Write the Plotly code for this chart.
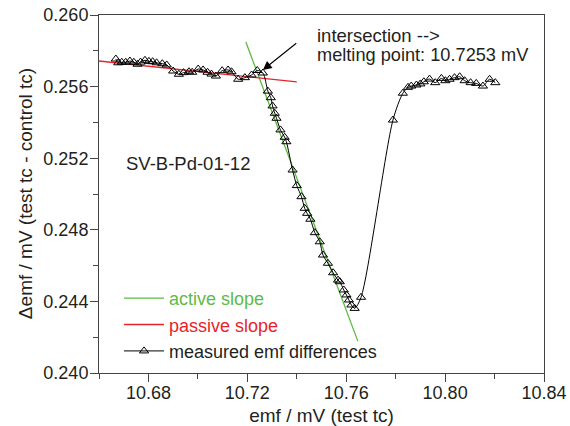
import plotly.graph_objects as go

# measured emf differences (x: emf / mV test tc, y: delta emf / mV)
emf_x = [10.6668, 10.6678, 10.6692, 10.6708, 10.6725, 10.6741, 10.6756, 10.6768, 10.6786,
         10.6802, 10.6817, 10.6833, 10.6856, 10.6874, 10.6900, 10.6923, 10.6942, 10.6964,
         10.6977, 10.7001, 10.7021, 10.7039, 10.7055, 10.7073, 10.7098, 10.7122, 10.7136,
         10.7163, 10.7190, 10.7217, 10.7240, 10.7263,
         10.7283, 10.7295, 10.7302, 10.7311, 10.7318, 10.7334, 10.7351, 10.7358, 10.7383,
         10.7400, 10.7419, 10.7432, 10.7442, 10.7455, 10.7473, 10.7493, 10.7506, 10.7526,
         10.7547, 10.7567, 10.7574, 10.7590, 10.7601, 10.7611, 10.7621, 10.7634, 10.7660,
         10.7789, 10.7829, 10.7850, 10.7863, 10.7884, 10.7900, 10.7914, 10.7937, 10.7960,
         10.7985, 10.8001, 10.8018, 10.8038, 10.8059, 10.8079, 10.8103, 10.8126, 10.8153,
         10.8180, 10.8203]
emf_diff = [0.25754, 0.25733, 0.25736, 0.25736, 0.25743, 0.25736, 0.25725, 0.25737, 0.25747,
            0.25741, 0.25739, 0.25733, 0.25728, 0.25721, 0.25687, 0.25669, 0.25678, 0.25683,
            0.25680, 0.25698, 0.25693, 0.25680, 0.25670, 0.25659, 0.25689, 0.25693, 0.25683,
            0.25641, 0.25650, 0.25665, 0.25690, 0.25676,
            0.25575, 0.25538, 0.25492, 0.25451, 0.25423, 0.25358, 0.25317, 0.25292, 0.25134,
            0.25047, 0.24985, 0.24920, 0.24892, 0.24859, 0.24784, 0.24733, 0.24659, 0.24613,
            0.24560, 0.24519, 0.24510, 0.24464, 0.24436, 0.24408, 0.24380, 0.24361, 0.24423,
            0.25413, 0.25563, 0.25596, 0.25603, 0.25609, 0.25615, 0.25627, 0.25642, 0.25622,
            0.25646, 0.25633, 0.25641, 0.25650, 0.25655, 0.25633, 0.25622, 0.25618, 0.25603,
            0.25641, 0.25622]

# fitted slopes (end points)
active_x = [10.7194, 10.7647]
active_y = [0.25849, 0.24178]
passive_x = [10.660, 10.740]
passive_y = [0.25743, 0.25626]

melting_point = 10.7253
sample_label = "SV-B-Pd-01-12"

x_ticks = [10.68, 10.72, 10.76, 10.80, 10.84]
y_ticks = [0.240, 0.244, 0.248, 0.252, 0.256, 0.260]

GREEN = "#5fba46"
RED = "#e8232b"
FONT = "Liberation Sans, Arial, sans-serif"
TXT = "#231f20"

fig = go.Figure()
fig.add_trace(go.Scatter(x=active_x, y=active_y, mode="lines",
                         line=dict(color=GREEN, width=1.3),
                         name=f'<span style="color:{GREEN}">active slope</span>'))
fig.add_trace(go.Scatter(x=passive_x, y=passive_y, mode="lines",
                         line=dict(color=RED, width=1.3),
                         name=f'<span style="color:{RED}">passive slope</span>'))
fig.add_trace(go.Scatter(x=emf_x, y=emf_diff, mode="lines+markers",
                         line=dict(color="black", width=1, shape="spline", smoothing=0.8),
                         marker=dict(symbol="triangle-up-open", size=8,
                                     color="black", line=dict(width=1)),
                         name="measured emf differences"))

# annotations
fig.add_annotation(x=10.7263, y=0.25693, ax=10.7404, ay=0.25849,
                   xref="x", yref="y", axref="x", ayref="y",
                   text="", showarrow=True, arrowhead=2, arrowsize=1.6,
                   arrowwidth=1.1, arrowcolor="black")
fig.add_annotation(x=10.7475, y=0.25888, xref="x", yref="y", xanchor="left",
                   yanchor="middle", showarrow=False, text="intersection -->",
                   font=dict(family=FONT, size=18.5, color=TXT))
fig.add_annotation(x=10.7475, y=0.25776, xref="x", yref="y", xanchor="left",
                   yanchor="middle", showarrow=False,
                   text=f"melting point: {melting_point} mV",
                   font=dict(family=FONT, size=18.2, color=TXT))
fig.add_annotation(x=10.6701, y=0.25173, xref="x", yref="y", xanchor="left",
                   yanchor="middle", showarrow=False, text=sample_label,
                   font=dict(family=FONT, size=18.5, color=TXT))
# y-axis title (placed as rotated text left of the axis)
fig.add_annotation(x=-0.166, y=0.5, xref="paper", yref="paper",
                   xanchor="center", yanchor="middle", textangle=-90,
                   showarrow=False, text="Δemf / mV (test tc - control tc)",
                   font=dict(family=FONT, size=19, color=TXT))

axis_common = dict(showline=True, linecolor="#444", linewidth=1, mirror=True,
                   ticks="outside", ticklen=8, tickwidth=1, tickcolor="#444",
                   showgrid=False, zeroline=False, automargin=False,
                   ticklabeloverflow="allow",
                   tickfont=dict(family=FONT, size=18, color=TXT))

fig.update_xaxes(range=[10.66, 10.84], tickvals=x_ticks,
                 ticktext=[f"{v:.2f}" for v in x_ticks],
                 ticklabelstandoff=-5,
                 minor=dict(ticks="outside", ticklen=5, tickcolor="#444", dtick=0.02,
                            tick0=10.66),
                 title=dict(text="emf / mV (test tc)", standoff=8,
                            font=dict(family=FONT, size=19, color=TXT)),
                 **axis_common)
fig.update_yaxes(range=[0.240, 0.260], tickvals=y_ticks,
                 ticktext=[f"{v:.3f}" for v in y_ticks],
                 ticklabelstandoff=-2,
                 minor=dict(ticks="outside", ticklen=5, tickcolor="#444", dtick=0.002,
                            tick0=0.240),
                 **axis_common)

fig.update_layout(width=570, height=426,
                  margin=dict(l=99, r=26, t=15, b=53),
                  plot_bgcolor="white", paper_bgcolor="white",
                  font=dict(family=FONT, size=18, color=TXT),
                  showlegend=True,
                  legend=dict(x=0.045, y=0.26, xanchor="left", yanchor="top",
                              bgcolor="rgba(0,0,0,0)", borderwidth=0,
                              font=dict(family=FONT, size=18, color=TXT),
                              tracegroupgap=0, itemwidth=40))

# remove the page's default body margin so the figure fills the window exactly
fig.write_html("out.html",
               config={"displayModeBar": False},
               post_script="document.body.style.margin='0';"
                           "document.body.style.overflow='hidden';")
